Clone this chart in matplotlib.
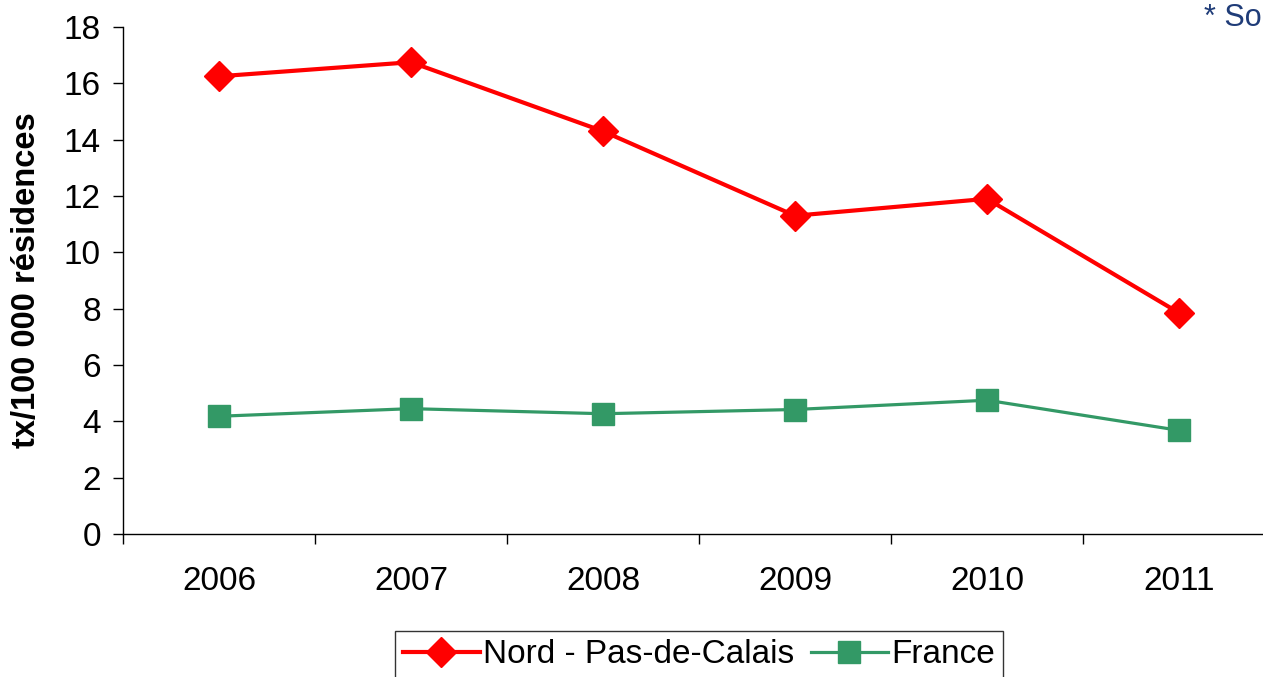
import matplotlib.pyplot as plt
import numpy as np

plt.rcParams['font.family'] = ['Liberation Sans', 'DejaVu Sans']

# ── Data ──────────────────────────────────────────────────────────────────────
years = ["2006", "2007", "2008", "2009", "2010", "2011"]
nord = [16.25, 16.75, 14.3, 11.3, 11.9, 7.85]
france = [4.18, 4.45, 4.27, 4.42, 4.75, 3.68]

W, H = 1263, 677
fig = plt.figure(figsize=(W / 100, H / 100), dpi=100)
ax = fig.add_axes([123 / W, (H - 534) / H, 1152 / W, 507 / H])

x = np.arange(len(years))
ax.plot(x, nord, color="#FF0000", lw=3, marker="D", markersize=15,
        label="Nord - Pas-de-Calais", zorder=3)
ax.plot(x, france, color="#339966", lw=2.3, marker="s", markersize=16,
        label="France", zorder=3)

ax.set_xlim(-0.5, len(years) - 0.5)
ax.set_ylim(0, 18)
ax.set_yticks(range(0, 19, 2))
ax.tick_params(axis="y", labelsize=24, direction="out", length=7, width=1, pad=9)

ax.set_xticks(x)
ax.set_xticklabels(years)
ax.set_xticks(np.arange(-0.5, len(years), 1), minor=True)
ax.tick_params(axis="x", which="major", length=0, labelsize=24, pad=23)
ax.tick_params(axis="x", which="minor", length=7, width=1, direction="out")

for s in ["top", "right"]:
    ax.spines[s].set_visible(False)
ax.spines["bottom"].set_linewidth(1)
ax.spines["left"].set_linewidth(1)

ax.set_ylabel("tx/100 000 résidences", fontsize=23.5, fontweight="bold")
ax.yaxis.set_label_coords(-0.07, 0.5)

leg = fig.legend(loc="upper center", bbox_to_anchor=(699 / W, 1 - 631 / H), ncol=2,
                 fontsize=24, frameon=True, fancybox=False, edgecolor="black",
                 handlelength=2.3, handletextpad=0.1, columnspacing=0.5,
                 borderpad=0.25, borderaxespad=0)
leg.get_frame().set_linewidth(1)

fig.text(1204 / W, 1 - 26 / H, "* Source", fontsize=22, color="#1F3C78",
         ha="left", va="baseline")

fig.savefig("out.png", dpi=100)
